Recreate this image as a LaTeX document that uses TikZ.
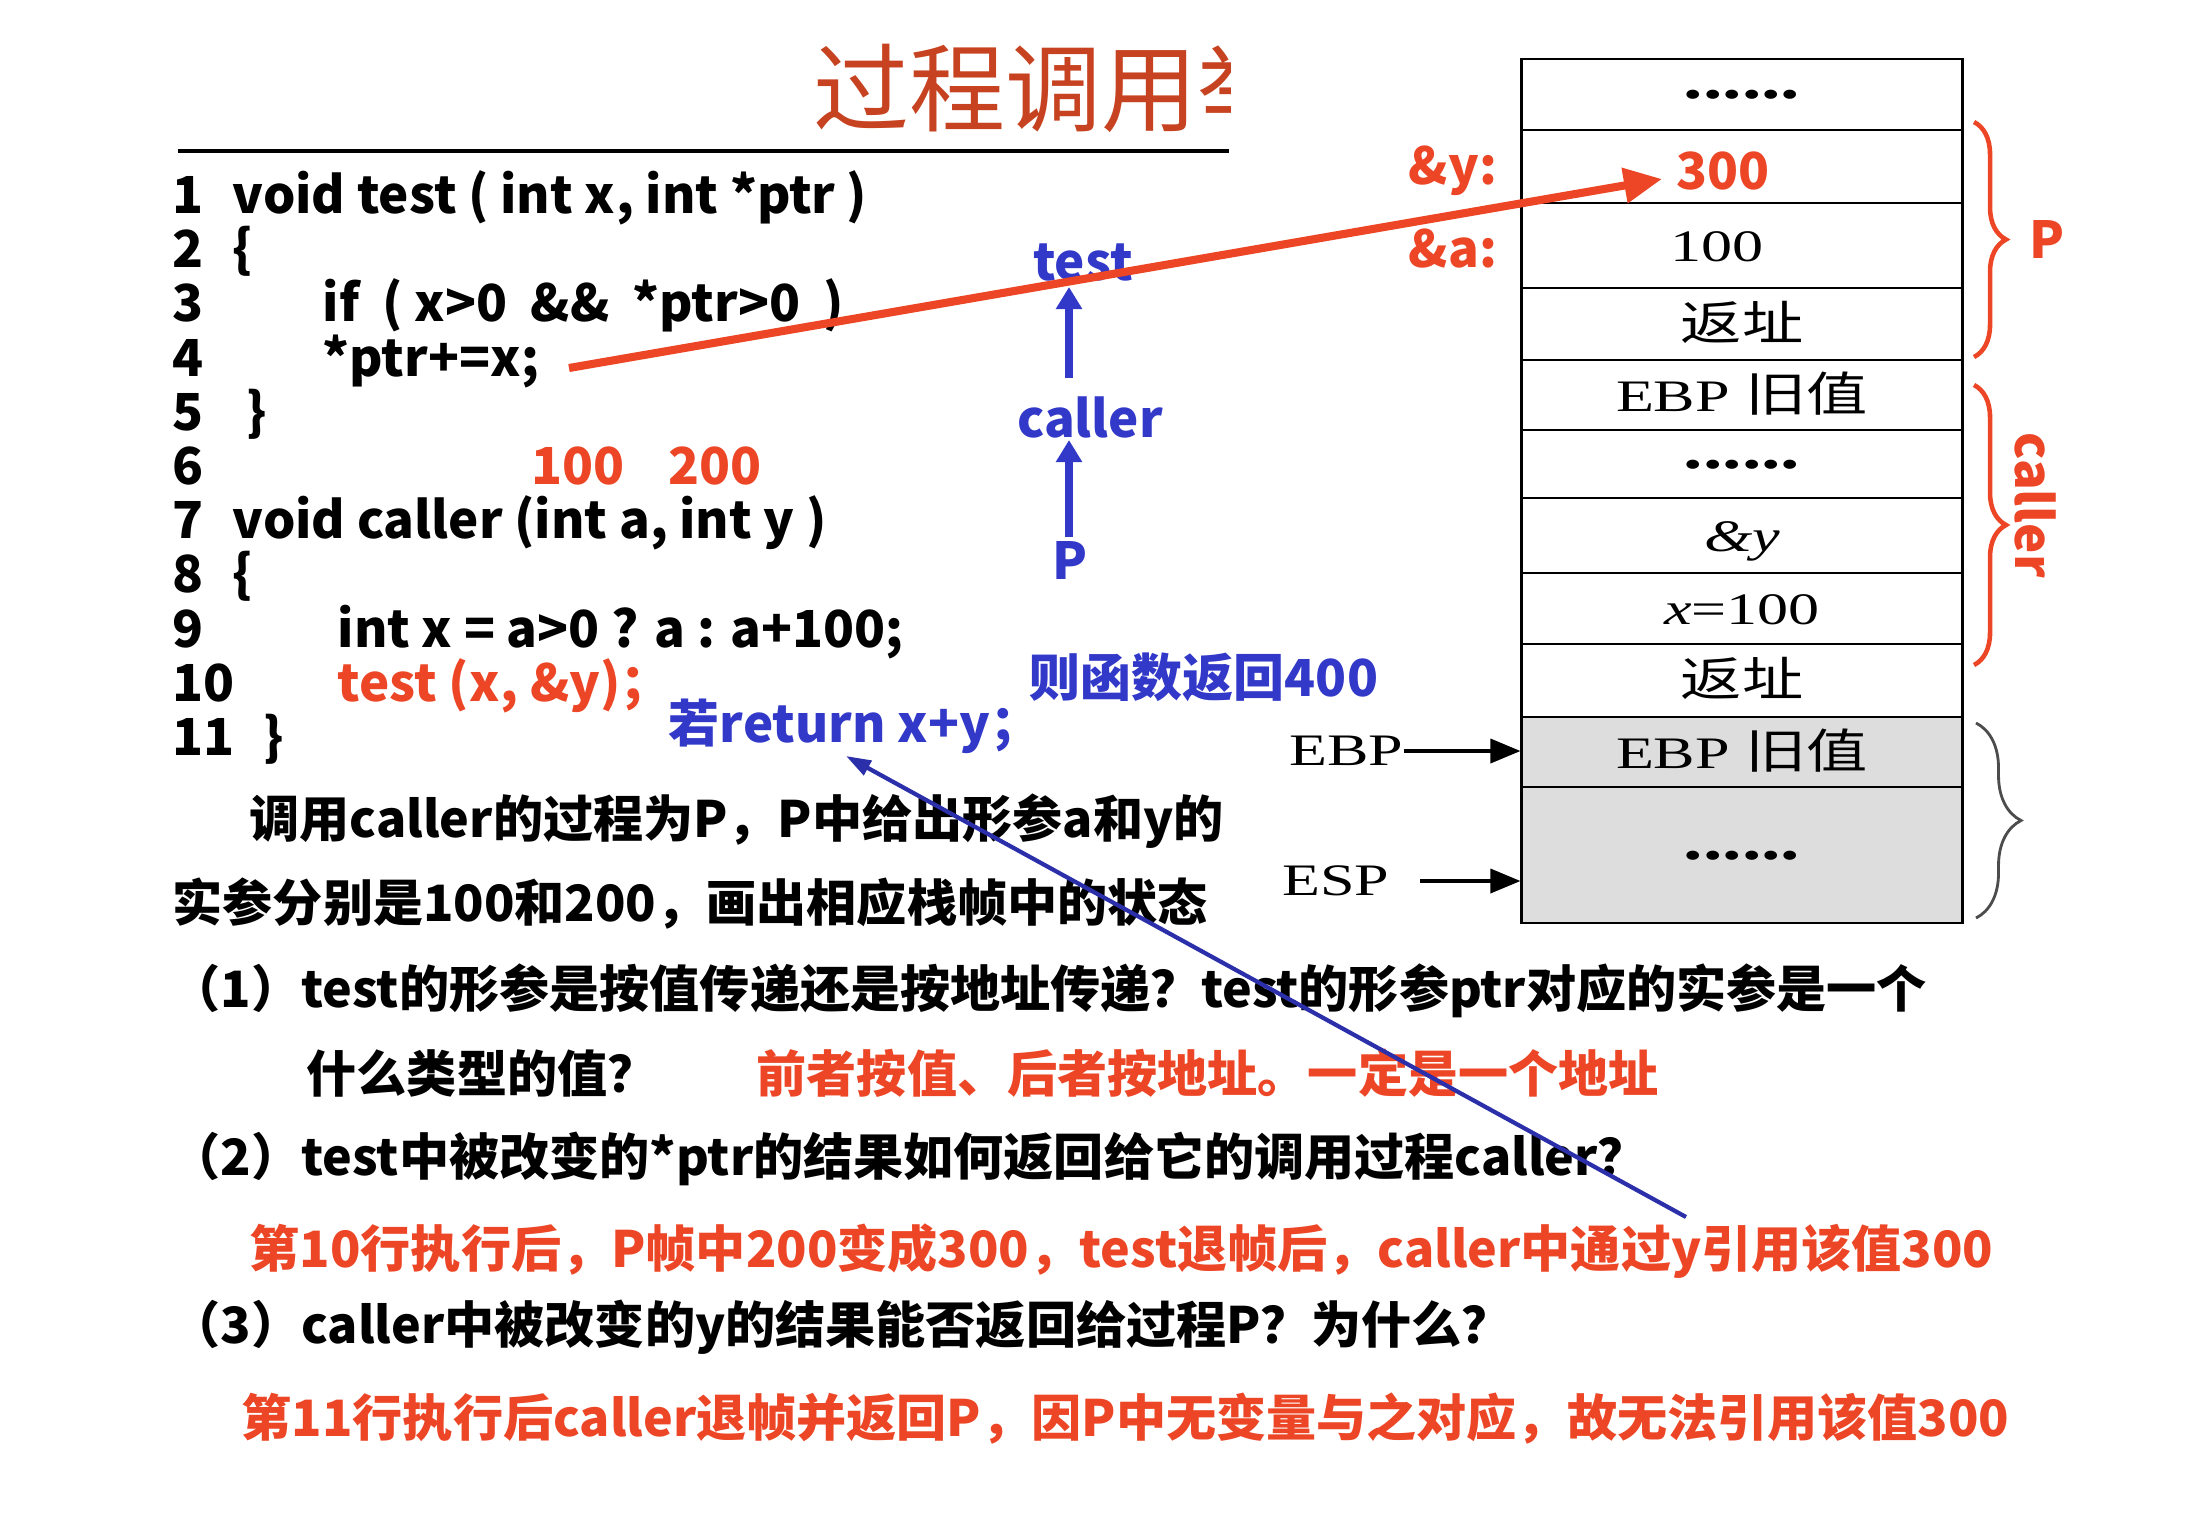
\documentclass[tikz,border=0pt]{standalone}
\usepackage{fontspec}
\setmainfont{Noto Sans CJK SC}
\newfontfamily\stackserif[FakeStretch=1.38]{Liberation Serif}
\newfontfamily\stackcjk[FakeStretch=1.3]{Noto Sans CJK SC}
\usetikzlibrary{arrows.meta,decorations.pathreplacing}
\definecolor{titlered}{RGB}{198,66,32}
\definecolor{ansred}{RGB}{236,70,38}
\definecolor{ansblue}{RGB}{50,56,200}
\definecolor{cellgray}{RGB}{221,221,221}
\newcommand\sixdots{\raisebox{0.12cm}{\fontsize{16}{18}\selectfont\textbf{......}}}
\newcommand\cjkin[1]{{\fontsize{13.4}{16}\selectfont\stackcjk #1}}

\begin{document}
\begin{tikzpicture}[x=0.01cm, y=-0.01cm,
  txt/.style={anchor=base west, inner sep=0pt, font=\fontsize{14.5}{17}\selectfont\bfseries},
  qtxt/.style={txt, font=\fontsize{14.25}{17}\selectfont\bfseries},
  lbl/.style={inner sep=0pt, font=\fontsize{14.5}{17}\selectfont\bfseries},
  cell/.style={draw, line width=0.8pt, minimum width=4.4cm, inner sep=0pt, text height=0.45cm, text depth=0.13cm, font=\fontsize{12.8}{15}\selectfont\stackserif},
  reg/.style={inner sep=0pt, font=\fontsize{12.8}{15}\selectfont\stackserif},
  ptr/.style={line width=1pt, -{Triangle[length=0.3cm, width=0.24cm]}},
  bluearrow/.style={ansblue, line width=2pt, -{Triangle[length=0.22cm, width=0.25cm]}},
  framebrace/.style={decorate, decoration={brace, amplitude=0.32cm}, line width=1.3pt}]
\useasboundingbox (0,0) rectangle (2194,1530);

% title and rule
\begin{scope}
\clip (0,0) rectangle (1230,151);
\node[anchor=west, inner sep=0pt, titlered, font=\fontsize{27.3}{30}\selectfont] (title) at (813,88) {过程调用举例};
\end{scope}
\draw[line width=0.9pt] (178,151) -- (1229,151);

% code
\node[txt] (n1) at (172,213) {1};
\node[txt] (n2) at (172,267) {2};
\node[txt] (n3) at (172,321) {3};
\node[txt] (n4) at (172,376) {4};
\node[txt] (n5) at (172,430) {5};
\node[txt] (n6) at (172,484) {6};
\node[txt] (n7) at (172,538) {7};
\node[txt] (n8) at (172,592) {8};
\node[txt] (n9) at (172,647) {9};
\node[txt] (n10) at (172,701) {10};
\node[txt] (n11) at (172,755) {11};
\node[txt] (l1) at (232,213) {void test ( int x, int *ptr )};
\node[txt] (l2) at (232,267) {\{};
\node[txt] (l3) at (322,321) {if\ \ ( x>0 \ \&\& \ *ptr>0 \ )};
\node[txt] (l4) at (322,376) {*ptr+=x;};
\node[txt] (l5) at (246,430) {\}};
\node[txt, ansred] (a100) at (531,484) {100};
\node[txt, ansred] (a200) at (668,484) {200};
\node[txt] (l7) at (232,538) {void caller (int a, int y )};
\node[txt] (l8) at (232,592) {\{};
\node[txt] (l9) at (337,647) {int x = a>0 ? a : a+100;};
\node[txt, ansred] (l10) at (337,701) {test (x, \&y)；};
\node[txt] (l11) at (263,755) {\}};

% call chain
\node[lbl, ansblue] (ctest) at (1083,262) {test};
\node[lbl, ansblue] (ccaller) at (1090,417) {caller};
\node[lbl, ansblue] (cp) at (1070,560) {P};
\draw[bluearrow] (1069,537) -- (1069,440);
\draw[bluearrow] (1069,378) -- (1069,287);
\node[lbl, ansblue] (ret400) at (1204,677) {则函数返回400};
\node[lbl, ansblue] (retxy) at (855,726) {若return x+y；};

% stack
\node[cell] (s1) at (1742,94.5) [minimum height=0.71cm] {\sixdots};
\node[cell] (s2) at (1742,166.5) [minimum height=0.73cm] {};
\node[lbl, ansred] (yv) at (1723,171) {300};
\node[cell] (s3) at (1742,245.5) [minimum height=0.85cm] {100\hspace*{14pt}};
\node[cell] (s4) at (1742,324) [minimum height=0.72cm] {\cjkin{返址}};
\node[cell] (s5) at (1742,395) [minimum height=0.70cm] {EBP \cjkin{旧值}};
\node[cell] (s6) at (1742,464) [minimum height=0.68cm] {\sixdots};
\node[cell] (s7) at (1742,535.5) [minimum height=0.75cm] {\itshape \&y};
\node[cell] (s8) at (1742,608.5) [minimum height=0.71cm] {\textit{x}=100};
\node[cell] (s9) at (1742,680.5) [minimum height=0.73cm] {\cjkin{返址}};
\node[cell, fill=cellgray] (s10) at (1742,752) [minimum height=0.70cm] {EBP \cjkin{旧值}};
\node[cell, fill=cellgray] (s11) at (1742,855) [minimum height=1.36cm] {\sixdots};

\node[lbl, ansred] (addry) at (1453,171) {\&y:};
\node[lbl, ansred] (addra) at (1453,249) {\&a:};
\node[reg] (ebp) at (1346,751) {EBP};
\node[reg] (esp) at (1336,881) {ESP};
\draw[ptr] (ebp.east) -- (ebp.east -| s10.west);
\draw[ptr, shorten <=0.3cm] (esp.east) -- (esp.east -| s11.west);

% frames
\draw[framebrace, ansred] (1974,122) -- (1974,357);
\node[lbl, ansred] (fp) at (2047,240) {P};
\draw[framebrace, ansred] (1974,385) -- (1974,665);
\node[lbl, ansred, rotate=-90] (fcaller) at (2035,505) {caller};
\draw[framebrace, black!70, line width=0.8pt, decoration={amplitude=0.45cm}] (1976,723) -- (1976,918);

% questions
\node[qtxt] (q0a) at (249,837) {调用caller的过程为P，P中给出形参a和y的};
\node[qtxt] (q0b) at (172,921) {实参分别是100和200，画出相应栈帧中的状态};
\node[qtxt] (q1a) at (170,1007) {（1）test的形参是按值传递还是按地址传递？test的形参ptr对应的实参是一个};
\node[qtxt] (q1b) at (306,1092) {什么类型的值？};
\node[qtxt, ansred] (a1) at (756,1092) {前者按值、后者按地址。一定是一个地址};
\node[qtxt] (q2) at (170,1175) {（2）test中被改变的*ptr的结果如何返回给它的调用过程caller？};
\node[qtxt, ansred] (a2) at (249,1267) {第10行执行后，P帧中200变成300，test退帧后，caller中通过y引用该值300};
\node[qtxt] (q3) at (170,1343) {（3）caller中被改变的y的结果能否返回给过程P？为什么？};
\node[qtxt, ansred] (a3) at (241,1436) {第11行执行后caller退帧并返回P，因P中无变量与之对应，故无法引用该值300};

% links
\coordinate (ptrend) at (569,368);
\coordinate (ytip) at (1662,179);
\draw[ansred, line width=2.3pt, -{Triangle[length=0.38cm, width=0.34cm]}] (ptrend) -- (ytip);
\coordinate (yuse) at (1686,1217);
\draw[ansblue!85!black, line width=1.2pt, -{Triangle[length=0.25cm, width=0.16cm]}] (yuse) -- (846,756);
\end{tikzpicture}
\end{document}
